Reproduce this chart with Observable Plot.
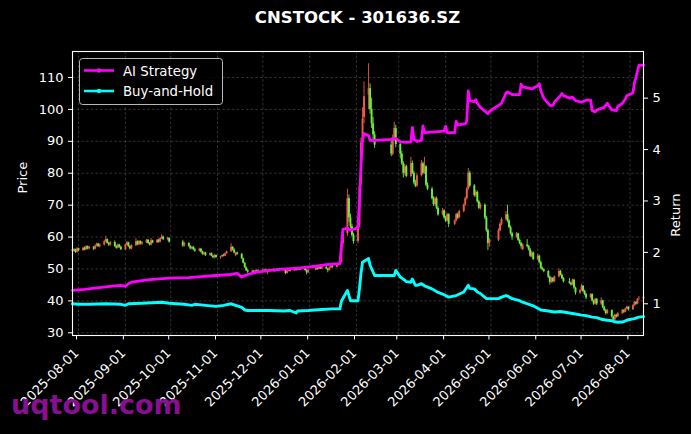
<!DOCTYPE html>
<html><head><meta charset="utf-8">
<script src="https://cdn.jsdelivr.net/npm/d3@7"></script>
<script src="https://cdn.jsdelivr.net/npm/@observablehq/plot@0.6"></script>
<style>
html,body{margin:0;padding:0;background:#000;}
#wrap{position:relative;width:691px;height:434px;overflow:hidden;background:#000;font-family:"DejaVu Sans",sans-serif;}
#title{position:absolute;left:0;width:715px;top:8px;line-height:20px;text-align:center;color:#fff;font-weight:bold;font-size:16.5px;}
#legend{position:absolute;left:79px;top:58px;}
#wm{position:absolute;left:11px;top:388px;line-height:34px;font-size:27px;font-weight:bold;color:#86108f;white-space:nowrap;}
#chart{position:absolute;left:0;top:0;}
</style>
</head><body>
<div id="wrap">
<div id="chart"></div>
<div id="title">CNSTOCK - 301636.SZ</div>
<div id="legend"></div>
<div id="wm">uqtool.com</div>
</div>
<script>
// ---------- data ----------
const startDate = "2025-07-28";
const endDate = "2026-08-10";
const holidays = ["2025-10-01","2025-10-02","2025-10-03","2025-10-06","2025-10-07","2025-10-08",
  "2026-01-01","2026-01-02","2026-02-16","2026-02-17","2026-02-18","2026-02-19","2026-02-20","2026-02-23",
  "2026-04-06","2026-05-01","2026-05-04","2026-05-05","2026-06-19"];

// daily candles [open, high, low, close], one line per trading week
const candles = [
[56.0,56.6,55.0,55.5],[55.5,56.4,55.2,56.0],[56.0,56.2,54.9,55.2],[55.2,56.7,55.0,56.3],[56.3,56.5,55.4,55.8],
[55.8,56.8,55.5,56.5],[56.5,56.9,55.7,56.0],[56.0,57.3,55.8,57.0],[57.0,57.2,56.0,56.3],[56.3,57.1,56.0,56.8],
[56.8,57.0,55.8,56.2],[56.2,57.5,56.0,57.2],[57.2,58.1,56.9,57.8],[57.8,58.0,56.7,57.0],[57.0,57.8,56.6,57.5],
[57.5,58.9,57.2,58.5],[58.5,60.2,58.2,59.2],[59.2,59.4,57.8,58.0],[58.0,58.3,57.0,57.5],[57.5,58.6,57.2,58.3],
[58.3,58.8,56.8,57.0],[57.0,57.4,56.2,56.5],[56.5,57.8,56.3,57.5],[57.5,57.7,56.5,56.8],[56.8,57.1,55.8,56.0],
[56.0,57.8,55.8,57.5],[57.5,58.6,57.2,58.2],[58.2,58.4,56.8,57.0],[57.0,57.3,56.0,56.3],[56.3,57.6,56.0,57.3],
[57.3,59.5,57.0,58.5],[58.5,58.8,57.3,57.6],[57.6,58.9,57.4,58.6],[58.6,58.8,57.5,57.8],[57.8,58.5,57.4,58.2],
[58.2,59.3,57.9,59.0],[59.0,59.2,57.8,58.0],[58.0,58.3,57.2,57.5],[57.5,59.6,57.3,58.8],[58.8,59.0,57.9,58.2],
[58.2,59.3,58.0,59.0],[59.0,59.3,58.1,58.4],[58.4,59.8,58.2,59.5],[59.5,60.7,59.2,60.0],[60.0,60.3,58.9,59.2],
[59.2,59.9,58.8,59.6],[59.6,59.8,58.1,58.4],
[58.4,59.0,56.8,57.2],[57.2,58.4,56.9,58.0],
[58.0,58.2,56.8,57.0],[57.0,57.3,56.0,56.3],[56.3,57.0,56.0,56.8],[56.8,57.0,55.7,56.0],[56.0,56.4,55.2,55.6],
[55.6,56.5,55.3,56.2],[56.2,56.4,55.0,55.3],[55.3,55.6,54.3,54.6],[54.6,55.4,54.2,55.0],[55.0,55.2,53.9,54.3],
[54.3,55.0,54.0,54.8],[54.8,55.0,53.8,54.0],[54.0,54.3,53.2,53.5],[53.5,54.5,53.2,54.2],[54.2,54.4,53.3,53.6],
[53.6,54.0,53.0,53.8],[53.8,54.4,53.5,54.2],[54.2,54.6,53.8,54.0],[54.0,55.0,53.8,54.8],[54.8,55.6,54.6,55.4],
[55.4,57.9,55.2,56.8],[56.8,57.0,55.6,55.9],[55.9,56.3,54.8,55.0],[54.2,55.2,53.8,55.0],[55.0,55.3,54.3,54.6],
[54.6,54.8,53.0,53.2],[53.2,53.4,51.6,51.8],[51.8,52.0,50.2,50.4],[50.4,50.6,49.2,49.4],[49.4,49.8,48.6,49.0],
[49.0,49.6,48.5,49.3],[49.3,49.5,48.6,48.9],[48.9,49.6,48.7,49.4],[49.4,49.7,48.8,49.1],[49.1,49.8,48.9,49.5],
[49.5,49.9,48.9,49.2],[49.2,49.9,49.0,49.7],[49.7,49.9,48.7,48.9],[48.9,49.6,48.1,49.4],[49.4,50.0,49.2,49.8],
[49.8,50.1,49.1,49.3],[49.3,49.8,48.9,49.6],[49.6,50.0,49.2,49.4],[49.4,50.1,49.2,49.9],[49.9,50.2,49.3,49.5],
[49.5,50.0,49.2,49.8],[49.8,50.0,48.2,48.6],[48.6,49.5,48.4,49.3],[49.3,49.9,49.1,49.7],[49.7,49.9,49.0,49.4],
[49.4,50.1,49.2,49.9],[49.9,50.2,49.3,49.6],[49.6,50.3,49.4,50.1],[50.1,50.3,49.5,49.7],[49.7,50.4,49.6,50.2],
[50.2,50.4,49.3,49.5],[49.5,49.8,48.2,48.8],[48.8,49.9,48.6,49.6],
[49.6,50.4,49.4,50.2],[50.2,50.5,49.6,49.9],[49.9,50.7,49.7,50.4],[50.4,50.6,49.8,50.0],[50.0,50.8,49.9,50.5],
[50.5,50.8,49.8,50.0],[50.0,50.2,48.8,49.5],[49.5,50.6,49.3,50.3],[50.3,51.1,50.1,50.8],[50.8,51.2,50.2,50.5],
[50.5,51.4,50.3,51.2],[51.2,51.8,50.9,51.6],[51.6,52.4,51.2,52.0],[52.0,58.5,51.8,57.8],[57.8,61.5,57.0,60.8],
[61.0,75.0,60.2,72.0],[72.0,73.2,64.5,66.0],[66.0,67.2,62.6,63.2],[63.2,64.0,60.0,60.6],[60.6,61.2,57.8,58.6],
[58.6,63.8,58.0,63.2],[63.4,75.8,63.0,75.8],[77.0,91.0,76.0,89.5],[90.0,100.5,88.5,97.0],[97.5,108.6,95.5,104.0],
[104.5,114.3,100.0,106.5],[106.5,108.0,98.5,100.0],[100.0,103.5,94.0,95.5],[95.5,97.5,90.5,92.0],[92.0,93.0,87.8,88.8],
[88.8,91.0,85.2,86.0],[86.0,92.0,85.5,91.0],[91.0,96.0,90.0,94.0],[94.0,95.0,88.0,89.0],
[89.0,90.0,84.5,86.0],[86.0,86.8,82.5,83.0],[83.0,83.6,78.5,80.0],[80.0,82.8,79.2,82.0],[82.0,82.5,78.6,79.0],
[79.0,85.0,78.5,83.0],[83.0,83.8,79.6,80.0],[80.0,80.6,76.5,77.0],[77.0,77.8,75.5,76.0],[76.0,79.8,75.6,79.2],
[79.2,84.0,78.8,83.0],[83.0,83.5,79.5,80.0],[80.0,85.0,79.6,82.0],[82.0,82.4,75.8,76.2],[76.2,77.0,74.5,75.0],
[75.0,75.6,71.6,72.0],[72.0,72.6,69.6,70.2],[70.2,72.6,69.8,72.0],[72.0,72.5,68.6,69.0],[69.0,69.5,66.5,67.0],
[67.0,69.0,66.6,68.2],[68.2,68.6,65.6,66.0],[66.0,66.5,64.6,65.0],[65.0,67.5,64.8,67.0],[67.0,67.3,63.0,64.0],
[64.0,65.4,63.6,65.0],[65.0,67.4,64.8,67.0],[67.0,67.5,65.5,66.0],[66.0,68.4,65.8,68.0],
[68.0,70.4,67.6,70.0],[70.0,72.5,69.6,72.0],[72.0,75.5,71.6,75.0],[75.0,81.5,74.6,80.0],[80.0,80.6,75.5,76.0],
[76.0,76.5,72.5,73.0],[73.0,74.6,72.4,74.0],[74.0,74.4,70.6,71.0],[71.0,71.5,68.6,69.0],[69.0,70.6,68.5,70.0],
[70.0,70.4,65.5,66.0],[66.0,66.5,61.5,62.0],[62.0,62.5,55.8,58.0],[58.0,59.5,56.8,59.0],
[59.0,62.6,58.6,62.0],[62.0,64.5,61.6,64.0],[64.0,66.0,63.5,65.5],
[65.5,68.0,65.0,67.0],[67.0,70.0,64.5,65.0],[65.0,65.5,62.6,63.0],[63.0,63.5,60.6,61.0],[61.0,61.5,59.0,60.0],
[60.0,61.4,59.6,61.0],[61.0,61.2,58.6,59.0],[59.0,59.4,57.6,58.0],[58.0,58.3,56.2,57.0],[56.0,57.8,55.8,57.5],
[57.5,59.2,56.6,57.0],[57.0,57.4,55.6,56.0],[56.0,56.4,53.6,54.0],[54.0,55.5,53.5,55.0],[55.0,55.3,52.6,53.0],
[53.0,54.6,52.6,54.0],[54.0,54.3,51.6,52.0],[52.0,52.4,49.8,50.2],[50.2,50.6,49.4,49.7],[49.7,50.0,48.8,49.2],
[49.2,49.5,47.0,47.4],[47.4,47.8,45.0,45.8],[45.8,47.4,45.5,47.0],[47.0,47.3,45.6,46.0],[46.0,47.8,45.8,47.5],
[47.5,50.0,47.2,49.2],[49.2,49.6,47.8,48.0],[48.0,48.4,46.6,47.0],[47.0,47.3,45.6,46.0],
[46.0,47.0,45.2,45.5],[45.5,45.8,44.6,45.0],[45.0,46.8,44.8,46.5],[46.5,46.8,43.6,44.0],[44.0,44.3,41.8,42.5],
[42.5,43.5,42.0,43.2],[43.2,45.2,43.0,44.6],[44.6,44.8,42.6,43.0],[43.0,43.3,41.6,42.0],[42.0,42.3,40.4,41.0],
[41.0,42.3,40.6,42.0],[42.0,42.2,39.6,40.0],[40.0,40.3,38.6,39.0],[39.0,40.8,38.7,40.5],[40.5,40.7,38.5,39.0],
[39.0,41.0,38.6,40.0],[40.0,40.2,37.6,38.0],[38.0,38.3,36.6,37.0],[37.0,37.3,35.6,36.0],[36.0,37.4,35.7,37.0],
[37.0,37.2,34.6,35.0],[35.0,35.3,33.3,34.0],[34.0,35.8,33.8,35.5],[35.5,35.8,34.6,35.0],[35.0,36.3,34.8,36.0],
[36.0,37.4,35.8,37.0],[37.0,37.2,36.0,36.5],[36.5,37.8,36.3,37.5],[37.5,38.4,37.2,38.0],[38.0,38.2,36.8,37.2],
[37.2,38.8,37.0,38.5],[38.5,39.8,38.3,39.5],[39.5,39.8,38.6,39.0],[39.0,40.8,38.8,40.5],[40.5,41.4,40.2,40.6],
[40.6,41.6,40.3,41.2]
];

// AI Strategy cumulative return (right axis)
const aiDates = ["2025-07-28","2025-08-05","2025-08-13","2025-08-22","2025-08-29","2025-09-01","2025-09-03","2025-09-05",
"2025-09-17","2025-09-30","2025-10-13","2025-10-21","2025-10-31","2025-11-10","2025-11-14","2025-11-17","2025-11-21",
"2025-11-26","2025-12-03","2025-12-12","2025-12-26","2026-01-05","2026-01-12","2026-01-21","2026-01-22","2026-01-23",
"2026-01-26","2026-01-28","2026-02-02","2026-02-03","2026-02-04","2026-02-05","2026-02-06","2026-02-09","2026-02-10",
"2026-02-13","2026-02-24","2026-02-27","2026-03-02","2026-03-06","2026-03-09","2026-03-10","2026-03-11","2026-03-13",
"2026-03-16","2026-03-17","2026-03-18","2026-03-27","2026-03-31","2026-04-01","2026-04-02","2026-04-07","2026-04-08",
"2026-04-09","2026-04-14","2026-04-15","2026-04-16","2026-04-17","2026-04-20","2026-04-21","2026-04-22","2026-04-24",
"2026-04-29","2026-04-30","2026-05-06","2026-05-08","2026-05-11","2026-05-12","2026-05-15","2026-05-20","2026-05-21",
"2026-05-22","2026-05-28","2026-06-01","2026-06-02","2026-06-03","2026-06-05","2026-06-09","2026-06-11","2026-06-12",
"2026-06-16","2026-06-17","2026-06-18","2026-06-22","2026-06-24","2026-06-26","2026-06-30","2026-07-03","2026-07-06",
"2026-07-07","2026-07-09","2026-07-10","2026-07-13","2026-07-15","2026-07-17","2026-07-20","2026-07-23","2026-07-24",
"2026-07-27","2026-07-29","2026-07-30","2026-07-31","2026-08-03","2026-08-04","2026-08-05","2026-08-06","2026-08-07",
"2026-08-10"];
const aiReturns = [1.26,1.28,1.31,1.34,1.36,1.34,1.39,1.42,
1.47,1.50,1.51,1.53,1.55,1.57,1.59,1.52,1.57,
1.61,1.64,1.67,1.70,1.73,1.76,1.78,2.10,2.45,
2.47,2.43,2.48,3.00,3.70,4.18,4.31,4.27,4.18,
4.18,4.20,4.22,4.15,4.14,4.15,4.43,4.20,4.16,
4.18,4.46,4.33,4.35,4.36,4.45,4.33,4.33,4.55,
4.48,4.50,4.55,5.14,4.95,4.93,4.97,4.90,4.82,
4.70,4.74,4.86,4.90,5.10,5.12,5.07,5.07,5.27,
5.22,5.18,5.24,5.28,5.15,5.00,4.86,4.86,4.92,
5.05,5.09,5.05,5.00,5.02,4.95,4.92,4.96,4.96,
4.76,4.73,4.77,4.80,4.82,4.90,4.77,4.76,4.84,
4.90,4.98,5.05,5.06,5.10,5.30,5.40,5.52,5.64,
5.64];

// Buy-and-Hold cumulative return (right axis)
const bhDates = ["2025-07-28","2025-08-01","2025-08-08","2025-08-19","2025-08-29","2025-09-01","2025-09-03","2025-09-12",
"2025-09-25","2025-09-30","2025-10-10","2025-10-15","2025-10-17","2025-10-24","2025-10-31","2025-11-05","2025-11-10",
"2025-11-12","2025-11-14","2025-11-17","2025-11-19","2025-11-21","2025-12-05","2025-12-15","2025-12-19","2025-12-23",
"2025-12-24","2025-12-31","2026-01-09","2026-01-16","2026-01-21","2026-01-22","2026-01-26","2026-01-27","2026-01-28",
"2026-02-02","2026-02-03","2026-02-04","2026-02-05","2026-02-09","2026-02-10","2026-02-13","2026-02-26","2026-02-27",
"2026-03-02","2026-03-04","2026-03-06","2026-03-09","2026-03-10","2026-03-12","2026-03-13","2026-03-16","2026-03-18",
"2026-03-23","2026-03-27","2026-03-30","2026-04-03","2026-04-08","2026-04-13","2026-04-16","2026-04-17","2026-04-20",
"2026-04-22","2026-04-24","2026-04-28","2026-04-30","2026-05-06","2026-05-08","2026-05-11","2026-05-12","2026-05-15",
"2026-05-20","2026-05-22","2026-05-29","2026-06-03","2026-06-08","2026-06-12","2026-06-16","2026-06-18","2026-06-24",
"2026-06-30","2026-07-03","2026-07-07","2026-07-10","2026-07-13","2026-07-15","2026-07-17","2026-07-20","2026-07-22",
"2026-07-24","2026-07-27","2026-07-31","2026-08-04","2026-08-07","2026-08-10"];
const bhReturns = [1.00,0.99,0.99,1.00,0.99,0.97,1.00,1.01,
1.03,1.01,0.99,0.97,0.99,0.97,0.95,0.97,1.00,
0.98,0.96,0.93,0.88,0.87,0.87,0.86,0.87,0.82,
0.86,0.87,0.89,0.90,0.90,1.05,1.26,1.16,1.06,
1.06,1.30,1.60,1.81,1.88,1.75,1.55,1.55,1.65,
1.52,1.48,1.43,1.42,1.48,1.36,1.36,1.39,1.35,
1.29,1.22,1.19,1.13,1.16,1.23,1.36,1.30,1.29,
1.23,1.20,1.10,1.10,1.10,1.13,1.16,1.15,1.10,
1.06,1.03,0.96,0.88,0.86,0.84,0.85,0.84,0.81,
0.78,0.77,0.74,0.73,0.70,0.69,0.68,0.67,0.65,
0.64,0.645,0.69,0.71,0.74,0.75];

const priceTicks = [30,40,50,60,70,80,90,100,110];
const returnTicks = [1,2,3,4,5];
const monthTicks = ["2025-08-01","2025-09-01","2025-10-01","2025-11-01","2025-12-01","2026-01-01","2026-02-01",
  "2026-03-01","2026-04-01","2026-05-01","2026-06-01","2026-07-01","2026-08-01"];

// ---------- build ----------
const upColor = "#f25a4a", downColor = "#6cf03c";
const aiColor = "#ff00ff", bhColor = "#00ffff";
const R0 = 22.98, RK = 16.11;               // twin-axis link: price = R0 + RK * return
const toPrice = r => R0 + RK * r;
const fromPrice = p => (p - R0) / RK;
const parse = s => new Date(s + "T00:00:00Z");

function tradingDays(start, end, hol) {
  const hs = new Set(hol), out = [];
  for (let t = parse(start).getTime(); t <= parse(end).getTime(); t += 864e5) {
    const d = new Date(t), w = d.getUTCDay();
    if (w === 0 || w === 6 || hs.has(d.toISOString().slice(0, 10))) continue;
    out.push(d);
  }
  return out;
}
const days = tradingDays(startDate, endDate, holidays);
const n = Math.min(days.length, candles.length);
const rows = d3.range(n).map(i => ({date: days[i], open: candles[i][0], high: candles[i][1], low: candles[i][2], close: candles[i][3]}));
const aiRows = aiDates.map((d, i) => ({date: parse(d), r: aiReturns[i]}));
const bhRows = bhDates.map((d, i) => ({date: parse(d), r: bhReturns[i]}));
const months = monthTicks.map(parse);
const colorOf = d => d.close >= d.open ? upColor : downColor;
const grid = {stroke: "#ffffff", strokeOpacity: 0.28, strokeWidth: 0.7, strokeDasharray: "2.5,2.2"};

const chart = Plot.plot({
  width: 691, height: 434,
  marginLeft: 72, marginRight: 48, marginTop: 51, marginBottom: 99,
  style: {background: "#000", color: "#fff", fontFamily: "DejaVu Sans, sans-serif", fontSize: "13px"},
  x: {type: "utc", domain: [parse(startDate), parse(endDate)]},
  y: {domain: [29.15, 118.15]},
  marks: [
    Plot.gridX(months, grid),
    Plot.gridY(priceTicks, grid),
    Plot.ruleX(rows, {x: "date", y1: "low", y2: "high", stroke: colorOf, strokeWidth: 0.9}),
    Plot.ruleX(rows, {x: "date", y1: "open", y2: "close", stroke: colorOf, strokeWidth: 1.9}),
    Plot.line(aiRows, {x: "date", y: d => toPrice(d.r), stroke: aiColor, strokeWidth: 2.8, strokeLinejoin: "round"}),
    Plot.line(bhRows, {x: "date", y: d => toPrice(d.r), stroke: bhColor, strokeWidth: 2.9, strokeLinejoin: "round"}),
    Plot.frame({stroke: "#fff", strokeWidth: 1.1}),
    Plot.axisY(priceTicks, {anchor: "left", tickSize: 4, tickPadding: 5, label: null}),
    Plot.axisY(returnTicks.map(toPrice), {anchor: "right", tickSize: 4, tickPadding: 5, label: null,
      tickFormat: p => String(Math.round(fromPrice(p)))}),
    Plot.axisX(months, {anchor: "bottom", tickSize: 4.5, tickPadding: 11, dx: -2, label: null, tickRotate: -45,
      textAnchor: "end", tickFormat: d3.utcFormat("%Y-%m-%d")}),
    Plot.text(["Price"], {frameAnchor: "left", dx: -50, rotate: -90, fill: "#fff", fontSize: 13}),
    Plot.text(["Return"], {frameAnchor: "right", dx: 32, rotate: -90, fill: "#fff", fontSize: 13})
  ]
});
document.getElementById("chart").appendChild(chart);

// legend
const legendItems = [{label: "AI Strategy", color: aiColor}, {label: "Buy-and-Hold", color: bhColor}];
const lg = d3.select("#legend").append("svg").attr("width", 145).attr("height", 48);
lg.append("rect").attr("x", 0.5).attr("y", 0.5).attr("width", 143).attr("height", 46).attr("rx", 3)
  .attr("fill", "rgba(0,0,0,0.85)").attr("stroke", "#b8b8b8").attr("stroke-width", 1);
legendItems.forEach((it, i) => {
  const y = 12.5 + i * 20.5;
  lg.append("line").attr("x1", 5).attr("x2", 35).attr("y1", y).attr("y2", y).attr("stroke", it.color).attr("stroke-width", 2.6);
  lg.append("circle").attr("cx", 20).attr("cy", y).attr("r", 2.2).attr("fill", it.color);
  lg.append("text").attr("x", 44).attr("y", y + 5).attr("fill", "#fff")
    .attr("font-family", "DejaVu Sans, sans-serif").attr("font-size", 13.3).text(it.label);
});
</script>
</body></html>
